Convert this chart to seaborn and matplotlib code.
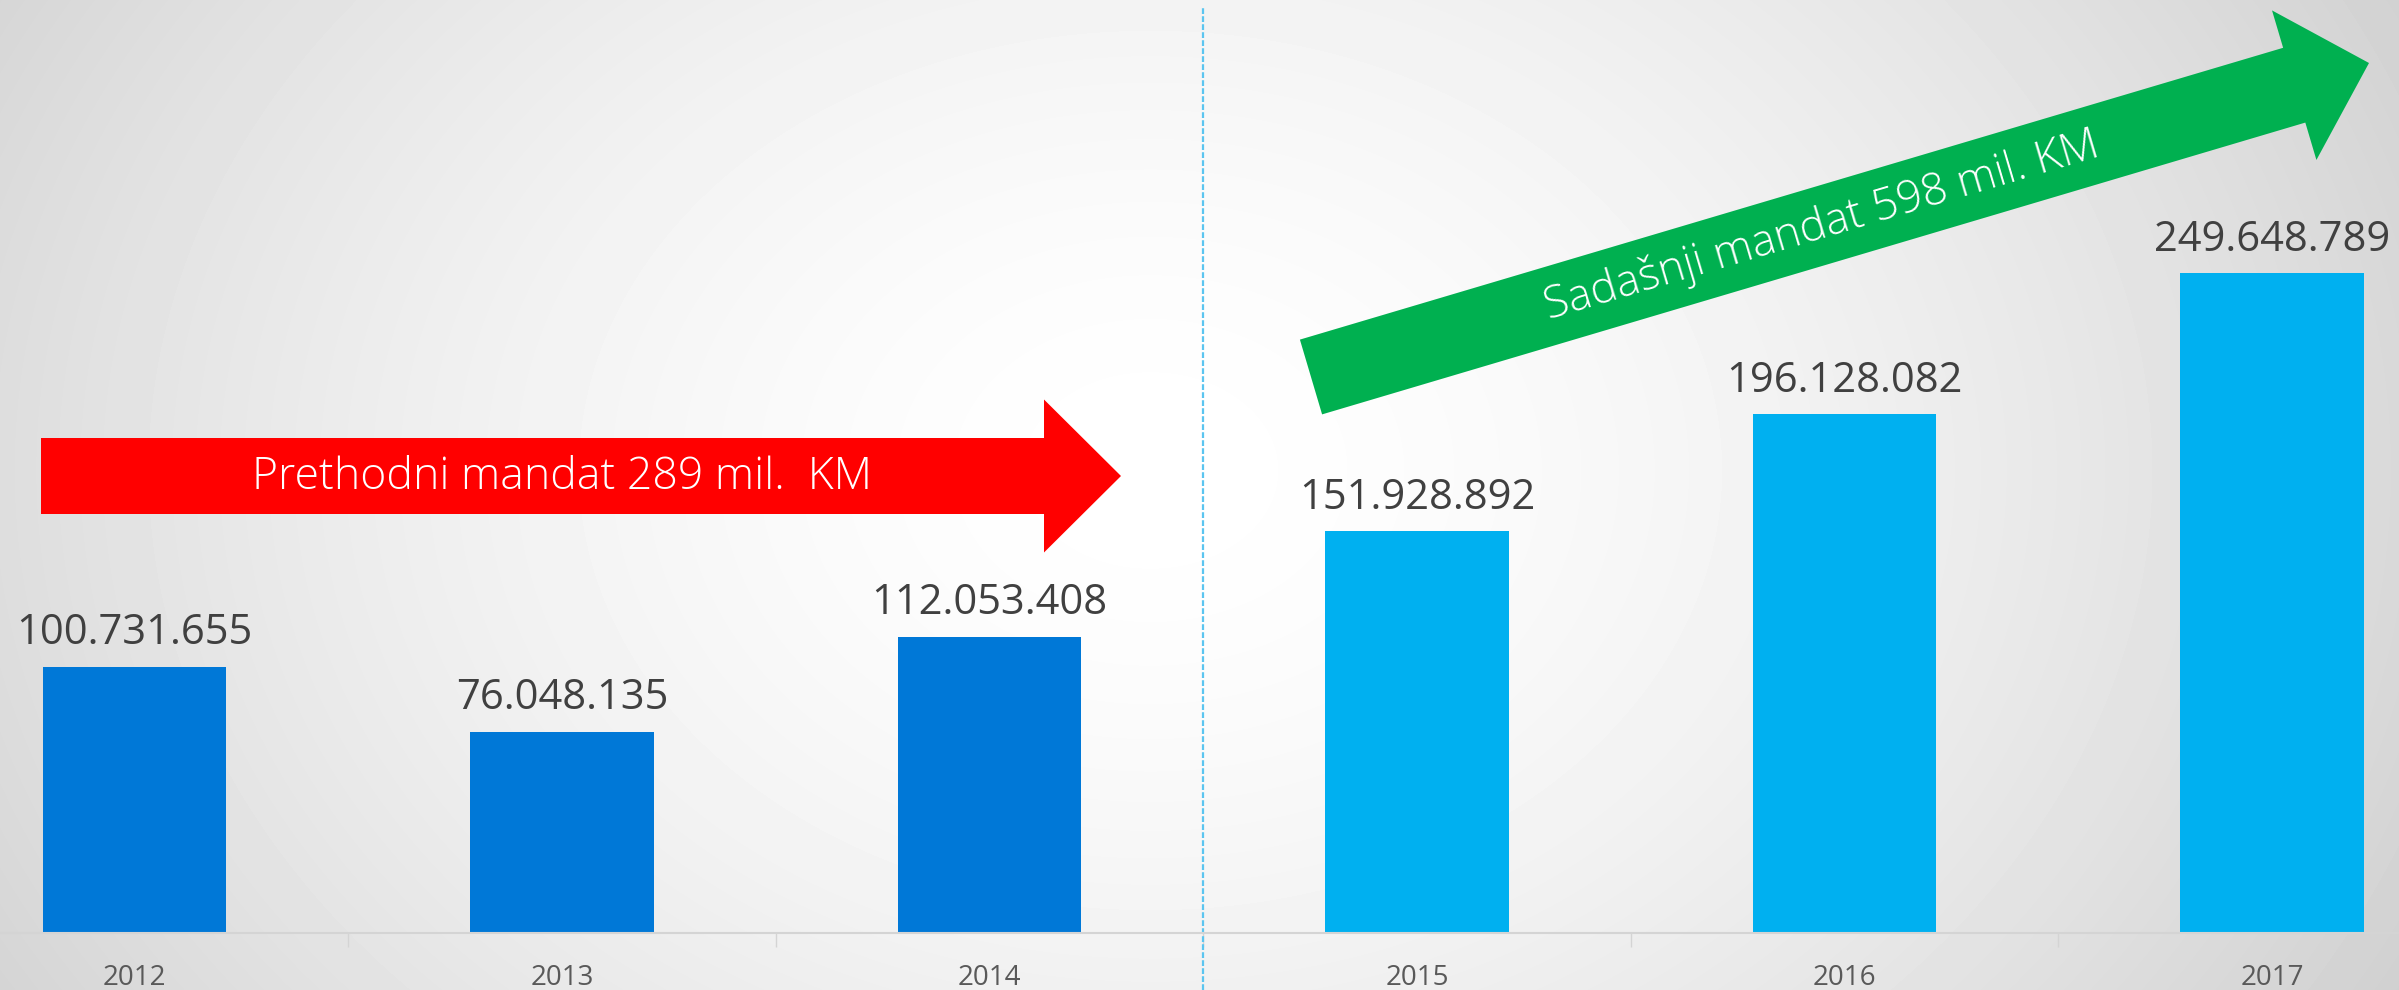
import numpy as np
import matplotlib
matplotlib.use("Agg")
import matplotlib.pyplot as plt
import seaborn as sns
from matplotlib.patches import FancyArrow

# data
years = ["2012", "2013", "2014", "2015", "2016", "2017"]
values = [100731655, 76048135, 112053408, 151928892, 196128082, 249648789]
bar_colors = ["#0078D7", "#0078D7", "#0078D7", "#00B0F0", "#00B0F0", "#00B0F0"]
prev_label = "Prethodni mandat 289 mil.  KM"
curr_label = "Sadašnji mandat 598 mil. KM"

W, H, DPI = 2399, 990, 100

sns.set_theme(style="white")
plt.rcParams["font.family"] = ["Open Sans", "DejaVu Sans"]

fig = plt.figure(figsize=(W / DPI, H / DPI), dpi=DPI)

# soft radial background, kept in its own axes behind everything
yy, xx = np.mgrid[0:H, 0:W]
r = np.sqrt(((xx - 1150) / 1300.0) ** 2 + ((yy - 470) / 1000.0) ** 2)
shade = 1.0 - 0.16 * np.clip(r, 0, 1.3) ** 1.6
bg_ax = fig.add_axes([0, 0, 1, 1], zorder=-5)
bg_ax.imshow(shade, cmap="gray", vmin=0, vmax=1, aspect="auto", interpolation="bilinear")
bg_ax.axis("off")

base_px = 933
ax = fig.add_axes([0, (H - base_px) / H, 1, base_px / H], zorder=1)
ax.set_facecolor("none")
ax.patch.set_alpha(0)

sns.barplot(x=years, y=values, hue=years, palette=bar_colors, legend=False,
            width=0.43, saturation=1, linewidth=0, ax=ax)

px_per_unit = 660 / 249.65e6
ax.set_ylim(0, base_px / px_per_unit)
ax.set_xlim((0 - 134.5) / 427.5, (W - 134.5) / 427.5)

for cont in ax.containers:
    ax.bar_label(cont, labels=[f"{v:,.0f}".replace(",", ".") for v in cont.datavalues],
                 padding=9, fontsize=30, color="#404040")

for s in ["top", "right", "left"]:
    ax.spines[s].set_visible(False)
ax.spines["bottom"].set_color("#d4d4d4")
ax.spines["bottom"].set_linewidth(1.5)
ax.set_yticks([])
ax.set_ylabel("")
ax.set_xlabel("")
ax.set_xticks(range(len(years)))
ax.set_xticklabels(years)
ax.set_xticks(np.arange(0.5, len(years) - 0.5, 1), minor=True)
ax.tick_params(axis="x", which="major", length=0, pad=22, labelsize=20, labelcolor="#595959")
ax.tick_params(axis="x", which="minor", bottom=True, length=10, width=1, color="#d4d4d4")

# divider between mandates
ax.axvline(2.5, ymin=-(H - base_px) / base_px, ymax=(H - 6 - (H - base_px)) / base_px,
           color="#5BC5F0", lw=1.6, ls=(0, (2.6, 1.0)), clip_on=False)

# overlay in pixel coordinates for the arrows
ov = fig.add_axes([0, 0, 1, 1], zorder=2)
ov.set_xlim(0, W)
ov.set_ylim(H, 0)
ov.axis("off")
ov.patch.set_alpha(0)

ov.add_patch(FancyArrow(41, 476, 1080, 0, width=76, head_width=153, head_length=77,
                        length_includes_head=True, color="#FF0000", lw=0))
ov.text(562, 489, prev_label, color="white", fontsize=32, fontweight="light",
        ha="center", va="baseline")

ov.add_patch(FancyArrow(1311, 377, 1058, -314, width=78, head_width=156, head_length=78,
                        length_includes_head=True, color="#00B050", lw=0))
ov.text(1822, 226, curr_label, color="white", fontsize=32, fontweight="light",
        ha="center", va="center", rotation=16.5, rotation_mode="anchor")

fig.savefig("out.png", dpi=DPI)
